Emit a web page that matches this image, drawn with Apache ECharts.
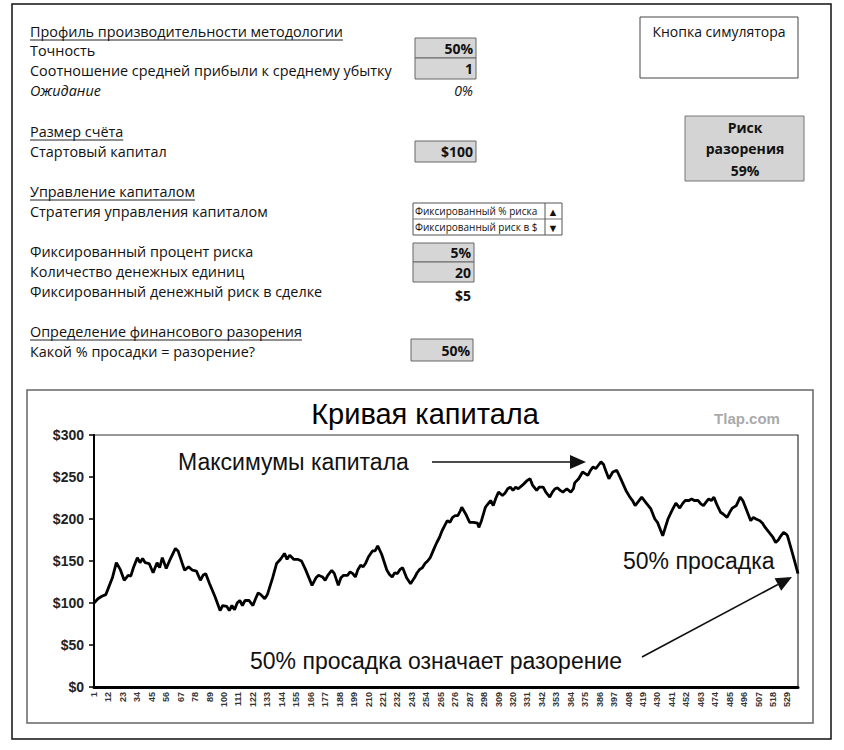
<!DOCTYPE html>
<html>
<head>
<meta charset="utf-8">
<script src="https://cdn.jsdelivr.net/npm/echarts@6/dist/echarts.min.js"></script>
<style>
  html, body { margin: 0; padding: 0; background: #fff; }
  #main { width: 844px; height: 750px; }
</style>
</head>
<body>
<div id="main"></div>
<script>
// equity curve: trade number -> account balance ($)
var tradeNo = [1,4,7,10,12,15,18,21,24,27,29,31,34,36,38,40,43,46,49,51,53,56,59,63,65,68,70,73,76,79,82,84,86,89,93,97,99,102,104,106,108,110,112,114,116,119,122,124,126,128,131,133,137,140,143,146,148,150,153,156,159,162,167,170,172,175,177,179,182,184,187,189,191,194,196,198,200,202,204,206,208,210,213,215,217,220,224,226,228,230,232,234,236,239,242,245,247,249,251,253,255,257,260,262,264,266,268,270,272,274,276,278,280,281,284,287,290,293,294,296,299,301,303,305,307,309,312,314,316,318,320,322,324,327,329,331,333,335,338,340,343,345,348,350,352,354,356,358,361,364,366,367,370,373,375,377,379,381,383,385,387,389,390,393,396,399,402,406,409,411,413,416,418,420,423,425,428,430,432,434,436,438,441,444,447,449,451,454,456,458,461,463,465,467,469,471,473,475,478,480,483,485,487,490,493,495,497,499,501,503,505,508,510,512,515,518,520,522,524,526,528,529,533,537];
var equity = [100,105,108,110,118,130,148,140,127,133,132,142,154,148,153,148,147,136,148,142,154,141,152,165,162,148,139,143,139,138,127,133,135,123,108,91,97,96,91,97,92,100,103,97,103,103,97,105,112,110,105,110,130,147,152,159,152,157,152,152,150,140,121,130,133,131,127,133,139,135,121,130,133,133,137,135,131,140,145,143,148,155,162,162,168,158,139,134,131,136,135,140,142,130,123,130,136,140,142,147,150,154,165,172,178,186,192,198,196,202,204,204,210,214,206,196,196,195,190,198,214,218,222,216,225,232,228,231,236,238,234,238,236,240,243,246,248,240,234,238,238,232,226,232,236,237,234,232,236,232,236,243,248,256,254,252,258,262,260,264,268,265,260,248,256,258,248,234,226,222,216,222,226,222,216,212,200,196,188,180,190,200,210,219,213,218,222,222,224,222,222,218,216,220,224,222,226,218,208,206,202,208,213,216,226,222,214,206,198,202,200,198,195,190,184,178,172,175,180,184,182,180,158,135];
var totalTrades = 537;
var yTicks = [0, 50, 100, 150, 200, 250, 300];

// spreadsheet panel values
var profileRows = ['Точность', 'Соотношение средней прибыли к среднему убытку'];
var profileVals = ['50%', '1'];
var mmRows = ['Фиксированный процент риска', 'Количество денежных единиц', 'Фиксированный денежный риск в сделке'];
var mmVals = ['5%', '20', '$5'];
var strategyOptions = ['Фиксированный % риска', 'Фиксированный риск в $'];
var riskOfRuin = '59%';

var categories = [];
for (var i = 1; i <= totalTrades; i++) categories.push(String(i));
var seriesData = tradeNo.map(function (t, k) { return [t - 1, equity[k]]; });

var uiFont = '"Open Sans", "Noto Sans", sans-serif';
var chartFont = '"Liberation Sans", Arial, sans-serif';
var bodySize = 14.4;

var measureCtx = document.createElement('canvas').getContext('2d');
function textWidth(txt, font) { measureCtx.font = font; return measureCtx.measureText(txt).width; }

var g = [];
function label(txt, x, y, opt) {
  opt = opt || {};
  g.push({
    type: 'text', x: x, y: y, z: 10,
    style: {
      text: txt, fill: opt.fill || '#111',
      font: (opt.style || '') + ' ' + (opt.weight || 'normal') + ' ' + (opt.size || bodySize) + 'px ' + (opt.family || uiFont),
      textAlign: opt.align || 'left', textVerticalAlign: 'middle'
    }
  });
}
function heading(txt, x, y) {
  label(txt, x, y);
  var w = textWidth(txt, 'normal ' + bodySize + 'px ' + uiFont);
  g.push({ type: 'line', shape: { x1: x, y1: y + 9, x2: x + w, y2: y + 9 }, style: { stroke: '#222', lineWidth: 1 } });
}
function box(x, y, w, h, fill, stroke) {
  g.push({ type: 'rect', shape: { x: x, y: y, width: w, height: h }, style: { fill: fill, stroke: stroke || '#555', lineWidth: 1 } });
}
function valueBox(txt, x, y, w, h) {
  box(x, y, w, h, '#d6d6d6', '#666');
  label(txt, x + w - 3, y + h / 2, { weight: 'bold', size: 14, align: 'right' });
}
function arrow(x1, y1, x2, y2) {
  var dx = x2 - x1, dy = y2 - y1, len = Math.sqrt(dx * dx + dy * dy);
  var ux = dx / len, uy = dy / len, hl = 16, hw = 7;
  var bx = x2 - ux * hl, by = y2 - uy * hl;
  g.push({ type: 'line', shape: { x1: x1, y1: y1, x2: bx, y2: by }, style: { stroke: '#111', lineWidth: 1.6 } });
  g.push({ type: 'polygon', shape: { points: [[x2, y2], [bx - uy * hw, by + ux * hw], [bx + uy * hw, by - ux * hw]] }, style: { fill: '#111' } });
}

// frames
g.push({ type: 'rect', shape: { x: 12, y: 4, width: 819, height: 735 }, style: { fill: 'none', stroke: '#111', lineWidth: 1.5 } });
g.push({ type: 'rect', shape: { x: 27, y: 390, width: 786, height: 333 }, style: { fill: 'none', stroke: '#666', lineWidth: 1.5 } });

// left panel
heading('Профиль производительности методологии', 30, 31);
label(profileRows[0], 30, 50);
label(profileRows[1], 30, 70);
label('Ожидание', 30, 90, { style: 'italic' });
valueBox(profileVals[0], 415, 38, 61, 20);
valueBox(profileVals[1], 415, 58, 61, 21);
label('0%', 473, 90, { style: 'italic', size: 14, align: 'right' });

heading('Размер счёта', 30, 131);
label('Стартовый капитал', 30, 151);
valueBox('$100', 415, 141, 61, 21);

heading('Управление капиталом', 30, 191);
label('Стратегия управления капиталом', 30, 211);
box(413, 203, 149, 32, '#fff', '#555');
g.push({ type: 'line', shape: { x1: 413, y1: 219, x2: 562, y2: 219 }, style: { stroke: '#777', lineWidth: 1 } });
g.push({ type: 'line', shape: { x1: 545, y1: 203, x2: 545, y2: 235 }, style: { stroke: '#555', lineWidth: 1 } });
label(strategyOptions[0], 415, 211, { size: 10 });
label(strategyOptions[1], 415, 227, { size: 10 });
label('▲', 553, 211, { size: 11, align: 'center' });
label('▼', 553, 227, { size: 11, align: 'center' });

label(mmRows[0], 30, 251);
label(mmRows[1], 30, 271);
label(mmRows[2], 30, 291);
valueBox(mmVals[0], 413, 243, 61, 19);
valueBox(mmVals[1], 413, 262, 61, 20);
label(mmVals[2], 471, 295, { weight: 'bold', size: 14, align: 'right' });

heading('Определение финансового разорения', 30, 331);
label('Какой % просадки = разорение?', 30, 351);
valueBox('50%', 411, 339, 62, 22);

// right panel
box(640, 17, 158, 61, '#fff', '#444');
label('Кнопка симулятора', 719, 31, { size: 14, align: 'center' });
box(685, 116, 119, 65, '#d4d4d4', '#777');
label('Риск', 745, 127, { weight: 'bold', size: 14, align: 'center' });
label('разорения', 745, 148, { weight: 'bold', size: 14, align: 'center' });
label(riskOfRuin, 745, 170, { weight: 'bold', size: 14, align: 'center' });

// chart decorations
label('Кривая капитала', 425, 414, { size: 29, family: chartFont, fill: '#000', align: 'center' });
label('Tlap.com', 747, 418, { size: 15, weight: 'bold', family: chartFont, fill: '#aaa', align: 'center' });
label('Максимумы капитала', 178, 462, { size: 23, family: chartFont, fill: '#111' });
arrow(432, 462, 586, 462);
label('50% просадка', 623, 561, { size: 23, family: chartFont, fill: '#111' });
label('50% просадка означает разорение', 250, 661, { size: 23, family: chartFont, fill: '#111' });
arrow(642, 657, 792, 577);

var myChart = echarts.init(document.getElementById('main'), null, { renderer: 'svg' });
var option = {
  animation: false,
  backgroundColor: '#fff',
  grid: { left: 94, right: 46, top: 435, bottom: 63, show: true, borderColor: '#333', borderWidth: 1.2, containLabel: false },
  xAxis: {
    type: 'category',
    data: categories,
    boundaryGap: false,
    axisLine: { lineStyle: { color: '#000', width: 3 } },
    axisTick: { show: false },
    axisLabel: { interval: 10, rotate: 90, fontSize: 9, fontWeight: 'bold', color: '#333', fontFamily: chartFont, margin: 5 }
  },
  yAxis: {
    type: 'value',
    min: yTicks[0],
    max: yTicks[yTicks.length - 1],
    interval: 50,
    axisLine: { show: true, lineStyle: { color: '#000', width: 2 } },
    axisTick: { show: true, length: 5, lineStyle: { color: '#000', width: 1.5 } },
    splitLine: { show: false },
    axisLabel: { formatter: '${value}', fontSize: 14, fontWeight: 'bold', color: '#222', fontFamily: chartFont, margin: 10 }
  },
  series: [{
    type: 'line',
    data: seriesData,
    showSymbol: false,
    lineStyle: { color: '#000', width: 2.8 },
    z: 5
  }],
  graphic: g
};
myChart.setOption(option);
</script>
</body>
</html>
